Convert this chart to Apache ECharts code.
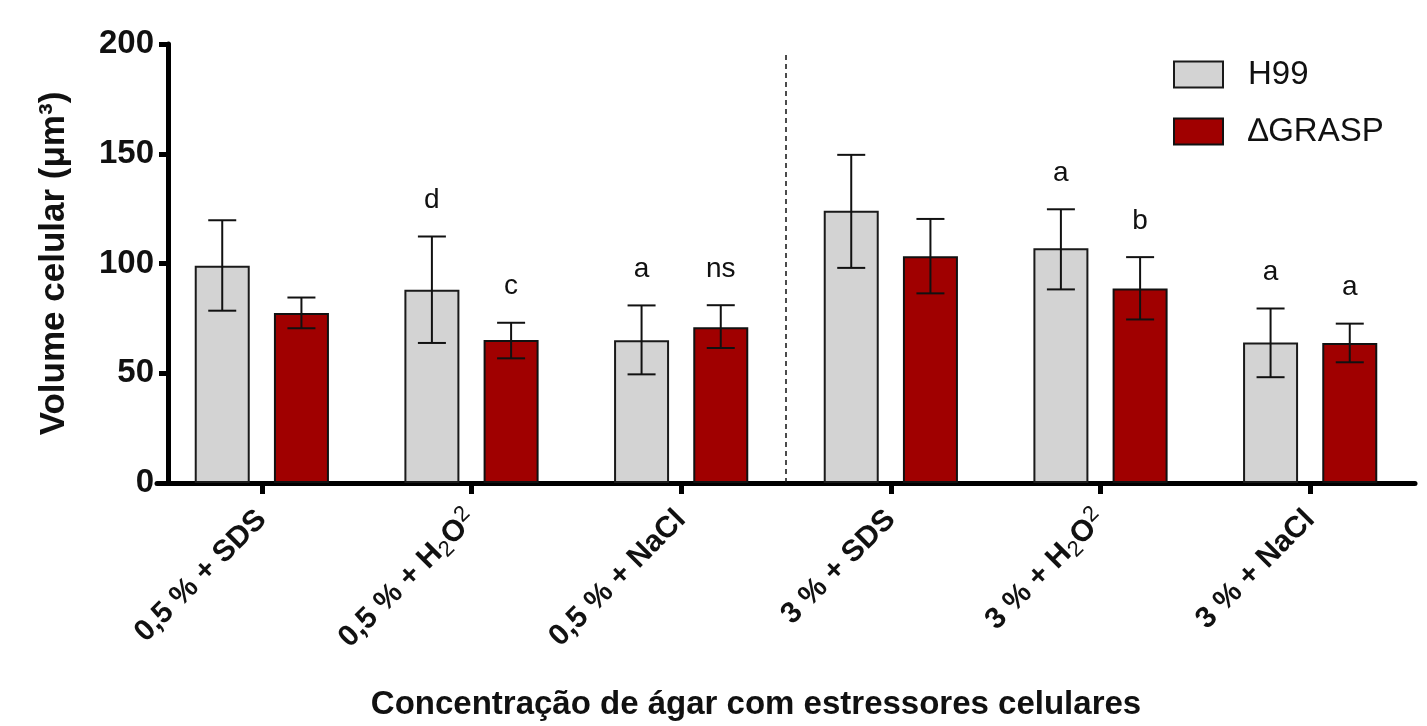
<!DOCTYPE html>
<html>
<head>
<meta charset="utf-8">
<script src="https://cdn.jsdelivr.net/npm/echarts@6/dist/echarts.min.js"></script>
<style>
html,body{margin:0;padding:0;background:#fff;}
#chart{width:1427px;height:726px;}
</style>
</head>
<body>
<div id="chart"></div>
<script>
const categories = ['0,5 % + SDS', '0,5 % + H2O2', '0,5 % + NaCl', '3 % + SDS', '3 % + H2O2', '3 % + NaCl'];
const seriesNames = ['H99', '\u2206GRASP'];
const h99Mean = [99, 88, 65, 124, 107, 64];
const h99Low = [78.5, 63.8, 49.5, 98, 88.2, 48.2];
const h99High = [119.7, 112.3, 80.9, 149.5, 124.7, 79.5];
const graspMean = [77.4, 65.1, 71, 103.3, 88.6, 63.8];
const graspLow = [70.5, 56.8, 61.5, 86.4, 74.5, 55];
const graspHigh = [84.5, 73, 81, 120.3, 102.9, 72.6];
const h99Letters = ['', 'd', 'a', '', 'a', 'a'];
const graspLetters = ['', 'c', 'ns', '', 'b', 'a'];
const yTicks = [0, 50, 100, 150, 200];
const separatorAt = 2.5;
const separatorTop = 195;

const FONT = '"Liberation Sans", Arial, sans-serif';
const BAR_W = 55;
const BAR_GAP = 0.44;
const OFFSET = (BAR_W + BAR_W * BAR_GAP) / 2;

function errorSeries(name, lows, highs, letters, side) {
  return {
    type: 'custom',
    name: name + ' err',
    z: 5,
    encode: { x: 0, y: [1, 2] },
    data: categories.map((c, i) => [i, lows[i], highs[i]]),
    renderItem: function (params, api) {
      const i = api.value(0);
      const lo = api.coord([i, api.value(1)]);
      const hi = api.coord([i, api.value(2)]);
      const cx = lo[0] + side * OFFSET;
      const cap = 14;
      const st = { stroke: '#111', lineWidth: 2 };
      const children = [
        { type: 'line', shape: { x1: cx, y1: hi[1], x2: cx, y2: lo[1] }, style: st },
        { type: 'line', shape: { x1: cx - cap, y1: hi[1], x2: cx + cap, y2: hi[1] }, style: st },
        { type: 'line', shape: { x1: cx - cap, y1: lo[1], x2: cx + cap, y2: lo[1] }, style: st }
      ];
      const t = letters[params.dataIndex];
      if (t) {
        children.push({
          type: 'text',
          style: {
            text: t, x: cx, y: hi[1] - 36,
            align: 'center', verticalAlign: 'middle',
            font: '28px ' + FONT, fill: '#111'
          }
        });
      }
      return { type: 'group', children: children };
    }
  };
}

const chart = echarts.init(document.getElementById('chart'), null, { renderer: 'canvas' });
const option = {
  backgroundColor: '#fff',
  animation: false,
  grid: { left: 157, right: 12, top: 44, bottom: 242, containLabel: false },
  legend: {
    data: seriesNames,
    orient: 'vertical',
    left: 1168,
    top: 53,
    padding: 5,
    itemWidth: 49,
    itemHeight: 26,
    itemGap: 24,
    icon: 'rect',
    textStyle: { fontFamily: FONT, fontSize: 33, color: '#111', padding: [0, 0, 0, 20] }
  },
  xAxis: [{
    type: 'category',
    data: categories,
    axisLine: { show: true, onZero: false, lineStyle: { color: '#000', width: 5 } },
    axisTick: { show: true, alignWithLabel: true, length: 11, lineStyle: { color: '#000', width: 5 } },
    axisLabel: {
      rotate: 45,
      margin: 32,
      interval: 0,
      fontFamily: FONT,
      color: '#111',
      formatter: function (v) {
        if (v.indexOf('H2O2') >= 0) {
          return '{b|' + v.replace('H2O2', 'H') + '}{s|2}{b|O}{p|2}';
        }
        return '{b|' + v + '}';
      },
      rich: {
        b: { fontFamily: FONT, fontWeight: 'bold', fontSize: 30, lineHeight: 36, color: '#111' },
        s: { fontFamily: FONT, fontWeight: 'normal', fontSize: 22, lineHeight: 22, verticalAlign: 'bottom', color: '#111' },
        p: { fontFamily: FONT, fontWeight: 'normal', fontSize: 22, lineHeight: 22, verticalAlign: 'top', color: '#111' }
      }
    },
    splitLine: { show: false },
    name: 'Concentração de ágar com estressores celulares',
    nameLocation: 'middle',
    nameGap: 205,
    nameTextStyle: { fontFamily: FONT, fontWeight: 'bold', fontSize: 33, color: '#111', padding: [0, 60, 0, 0] }
  }, {
    type: 'value',
    min: -0.5,
    max: 5.5,
    show: false
  }],
  yAxis: {
    type: 'value',
    min: yTicks[0],
    max: yTicks[yTicks.length - 1],
    interval: 50,
    offset: -11,
    axisLine: { show: true, onZero: false, lineStyle: { color: '#000', width: 5 } },
    axisTick: { show: true, length: 9, lineStyle: { color: '#000', width: 5 } },
    axisLabel: { margin: 14, fontFamily: FONT, fontWeight: 'bold', fontSize: 33, color: '#111' },
    splitLine: { show: false },
    name: 'Volume celular (μm³)',
    nameLocation: 'middle',
    nameGap: 96,
    nameTextStyle: { fontFamily: FONT, fontWeight: 'bold', fontSize: 35, color: '#111' }
  },
  series: [
    {
      type: 'bar', name: seriesNames[0], data: h99Mean,
      barWidth: BAR_W, barGap: (BAR_GAP * 100) + '%',
      itemStyle: { color: '#D3D3D3', borderColor: '#1a1a1a', borderWidth: 2 }
    },
    {
      type: 'bar', name: seriesNames[1], data: graspMean,
      barWidth: BAR_W, barGap: (BAR_GAP * 100) + '%',
      itemStyle: { color: '#A00000', borderColor: '#111', borderWidth: 2 }
    },
    errorSeries(seriesNames[0], h99Low, h99High, h99Letters, -1),
    errorSeries(seriesNames[1], graspLow, graspHigh, graspLetters, 1),
    {
      type: 'line', name: 'sep', xAxisIndex: 1, data: [],
      markLine: {
        silent: true, symbol: 'none', label: { show: false },
        lineStyle: { color: '#111', width: 1.5, type: [5, 4] },
        data: [[{ coord: [separatorAt, separatorTop] }, { coord: [separatorAt, 0] }]]
      }
    }
  ]
};
chart.setOption(option);
</script>
</body>
</html>
